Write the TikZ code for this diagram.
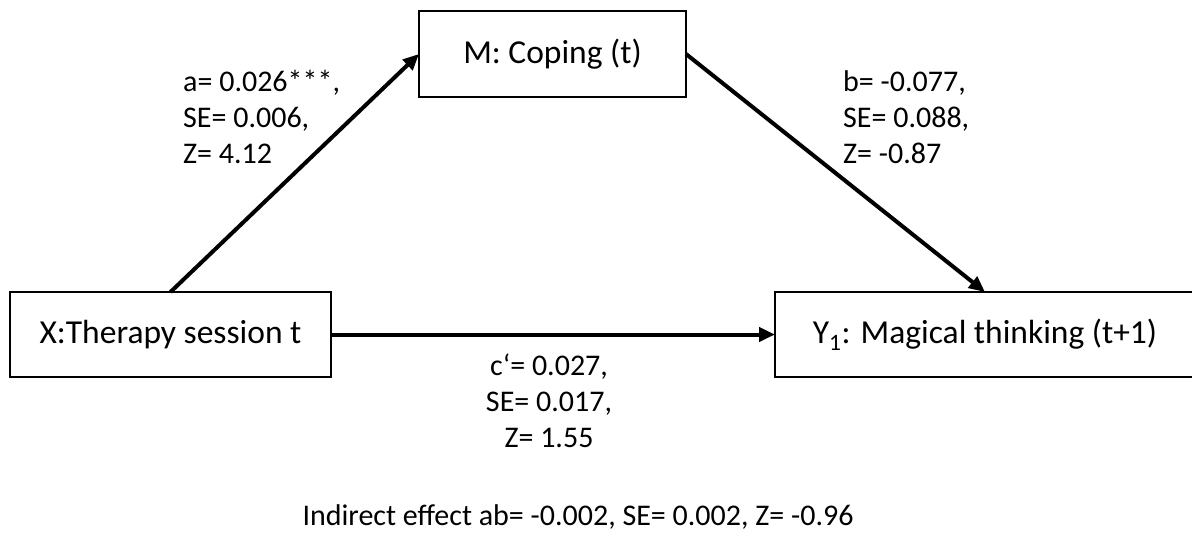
\documentclass[tikz,border=0pt]{standalone}
\usepackage{fontspec}
\setmainfont{Carlito}
\usetikzlibrary{arrows.meta}
\begin{document}
\begin{tikzpicture}[x=1pt,y=-1pt,
  box/.style={draw=black, line width=2.6pt, inner sep=0pt, outer sep=0pt,
    font=\fontsize{33.5}{40}\selectfont},
  path/.style={line width=4pt, -{Triangle[length=16pt,width=14pt]}},
  lbl/.style={font=\fontsize{30}{36}\selectfont, inner sep=0pt}]
  \useasboundingbox (0,0) rectangle (1192,533);
  \clip (0,0) rectangle (1192,533);

  % variables
  \node[box, minimum width=321pt, minimum height=85pt] (X) at (170.5,334.5) {X:Therapy session t};
  \node[box, minimum width=267pt, minimum height=86pt] (M) at (552.5,54) {M: Coping (t)};
  \node[box, minimum width=420pt, minimum height=85pt] (Y) at (985,334.5) {Y\textsubscript{1}: Magical thinking (t+1)};

  % paths
  \draw[path] (X.north) -- (M.west);
  \draw[path] (M.east) -- (Y.north);
  \draw[path] (X.east) -- (Y.west);

  % coefficients
  \node[lbl, anchor=west, align=left] (la) at (183,117) {a= 0.026***,\\SE= 0.006,\\Z= 4.12};
  \node[lbl, anchor=west, align=left] (lb) at (843,117) {b= -0.077,\\SE= 0.088,\\Z= -0.87};
  \node[lbl, align=center] (lc) at (549,401) {c‘= 0.027,\\SE= 0.017,\\Z= 1.55};
  \node[lbl] (ind) at (578,517) {Indirect effect ab= -0.002, SE= 0.002, Z= -0.96};
\end{tikzpicture}
\end{document}
